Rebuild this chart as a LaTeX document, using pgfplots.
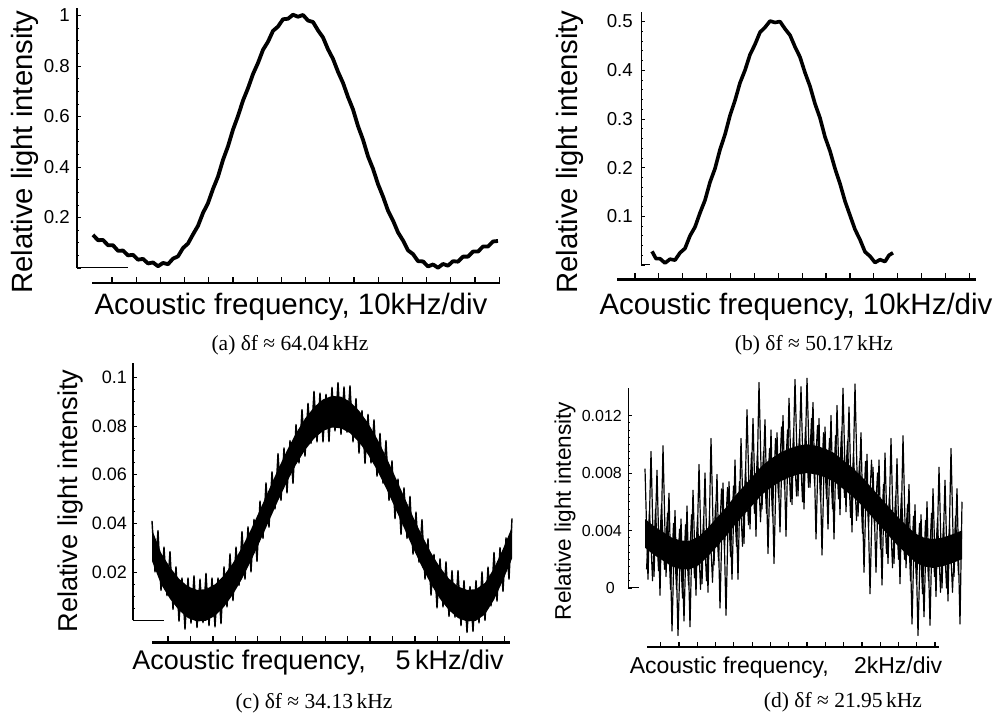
\documentclass[border=0pt]{standalone}
\usepackage{fontspec}
\setmainfont{Liberation Sans}
\newfontfamily\capfont{Liberation Serif}
\usepackage{pgfplots}
\pgfplotsset{compat=1.18}
\pgfplotsset{
  yax/.style={scale only axis, clip=false, axis y line=left, axis x line=none,
    axis line style={-}, y axis line style={-, black}, tick align=inside,
    xtick=\empty, scaled y ticks=false, major tick length=4pt, minor tick length=2.4pt,
    ytick style={black, line width=0.7pt}, minor tick style={black, line width=0.5pt},
    yticklabel style={inner sep=0pt}},
  xax/.style={scale only axis, axis x line=bottom, axis y line=none, ymin=0, ymax=1,
    height=10pt, tick align=inside, xticklabels={}, axis line style={-},
    x axis line style={-, black}, xtick style={black, line width=1.2pt}, major tick length=6pt},
}
\begin{document}
\begin{tikzpicture}[x=1pt,y=1pt]
\useasboundingbox (0,0) rectangle (998,717);
% ================= (a) =================
\begin{axis}[yax, at={(77pt,449pt)}, anchor=south west, width=423pt, height=260.1pt,
  xmin=77, xmax=500, ymin=0, ymax=1.03,
  ytick={0,0.2,0.4,0.6,0.8,1}, yticklabels={,0.2,0.4,0.6,0.8,1}, minor y tick num=3,
  y axis line style={line width=1.3pt},
  yticklabel style={font=\fontsize{18.7}{20}\selectfont, xshift=-7pt}]
\addplot[black, line width=1pt] coordinates {(77,0) (128,0)};
\addplot[black, line width=3.8pt, line join=round] coordinates {
(93,0.131) (98,0.110) (103,0.111) (108,0.090) (113,0.090) (118,0.068) (123,0.069) (128,0.050)
(133,0.052) (138,0.033) (143,0.036) (148,0.018) (153,0.022) (158,0.007) (163,0.020) (168,0.015)
(173,0.037) (178,0.046) (183,0.079) (188,0.097) (193,0.133) (198,0.167) (203,0.218) (208,0.257)
(213,0.313) (218,0.362) (223,0.428) (228,0.482) (233,0.548) (238,0.602) (243,0.663) (248,0.712)
(253,0.768) (258,0.812) (263,0.864) (268,0.896) (273,0.939) (278,0.956) (283,0.985) (288,0.987)
(293,1.003) (298,0.995) (303,1.002) (308,0.980) (313,0.974) (318,0.941) (323,0.913) (328,0.866)
(333,0.828) (338,0.777) (343,0.733) (348,0.677) (353,0.628) (358,0.562) (363,0.508) (368,0.442)
(373,0.393) (378,0.332) (383,0.283) (388,0.227) (393,0.188) (398,0.141) (403,0.109) (408,0.070)
(413,0.055) (418,0.027) (423,0.026) (428,0.006) (433,0.014) (438,0.001) (443,0.016) (448,0.009)
(453,0.027) (458,0.025) (463,0.045) (468,0.045) (473,0.065) (478,0.065) (483,0.085) (488,0.085)
(493,0.105) (498,0.107)};
\end{axis}
\begin{axis}[xax, at={(92pt,434pt)}, anchor=south west, width=408pt, xmin=92, xmax=500,
  xtick={112,136.2,...,500}, x axis line style={line width=2.5pt}]
\end{axis}
\node[rotate=90, font=\fontsize{29.3}{30}\selectfont] at (25,565) {Relative light intensity};
\node[font=\fontsize{29.5}{31}\selectfont] at (291,410) {Acoustic frequency, 10kHz/div};
\node[font=\capfont\fontsize{21.5}{23}\selectfont] at (290,372) {(a) δf ≈ 64.04\,kHz};
% ================= (b) =================
\begin{axis}[yax, at={(641pt,452pt)}, anchor=south west, width=259pt, height=253.2pt,
  xmin=641, xmax=900, ymin=0, ymax=0.52,
  ytick={0,0.1,0.2,0.3,0.4,0.5}, yticklabels={,0.1,0.2,0.3,0.4,0.5}, minor y tick num=4,
  y axis line style={line width=1pt},
  yticklabel style={font=\fontsize{18.7}{20}\selectfont, xshift=-8pt}]
\addplot[black, line width=1pt] coordinates {(641,0) (650,0)};
\addplot[black, line width=3.6pt, line join=round] coordinates {
(652,0.028) (656,0.013) (660,0.013) (665,0.004) (670,0.012) (675,0.010) (680,0.025) (685,0.034)
(690,0.060) (695,0.078) (700,0.107) (705,0.133) (710,0.170) (715,0.198) (720,0.237) (725,0.268)
(730,0.307) (735,0.338) (740,0.374) (745,0.400) (750,0.432) (755,0.453) (760,0.478) (765,0.488)
(770,0.501) (775,0.498) (780,0.500) (785,0.485) (790,0.472) (795,0.448) (800,0.427) (805,0.395)
(810,0.367) (815,0.331) (820,0.302) (825,0.263) (830,0.234) (835,0.198) (840,0.167) (845,0.131)
(850,0.102) (855,0.073) (860,0.052) (865,0.027) (870,0.018) (875,0.005) (880,0.011) (885,0.007)
(889,0.020) (893,0.025)};
\end{axis}
\begin{axis}[xax, at={(617pt,437.5pt)}, anchor=south west, width=359pt, xmin=617, xmax=976,
  xtick={635,658.88,...,971}, x axis line style={line width=2.4pt}]
\end{axis}
\node[rotate=90, font=\fontsize{29.3}{30}\selectfont] at (570,565) {Relative light intensity};
\node[font=\fontsize{29.5}{31}\selectfont] at (796,410) {Acoustic frequency, 10kHz/div};
\node[font=\capfont\fontsize{21.5}{23}\selectfont] at (814,372) {(b) δf ≈ 50.17\,kHz};
% ================= (c) =================
\begin{axis}[yax, at={(133pt,96.5pt)}, anchor=south west, width=382pt, height=257.6pt,
  xmin=133, xmax=515, ymin=0, ymax=0.106,
  ytick={0,0.02,0.04,0.06,0.08,0.1}, yticklabels={,0.02,0.04,0.06,0.08,0.1}, minor y tick num=3,
  y axis line style={line width=1.2pt},
  yticklabel style={font=\fontsize{18}{20}\selectfont, xshift=-6pt}]
\addplot[black, line width=1pt] coordinates {(133,0) (164,0)};
\addplot[fill=black, draw=none] coordinates {
(152,0.0375) (161,0.0279) (170,0.0219) (179,0.0172) (188,0.014) (197,0.0126) (206,0.0129) (215,0.0149)
(224,0.0186) (233,0.0237) (242,0.0301) (251,0.0375) (260,0.0456) (269,0.0539) (278,0.0622) (287,0.07)
(296,0.0771) (305,0.0831) (314,0.0878) (323,0.091) (332,0.0924) (341,0.0921) (350,0.0901) (359,0.0864)
(368,0.0813) (377,0.0749) (386,0.0675) (395,0.0594) (404,0.0511) (413,0.0428) (422,0.035) (431,0.0279)
(440,0.0219) (449,0.0172) (458,0.014) (467,0.0126) (476,0.0129) (485,0.0155) (494,0.0215) (503,0.0295) (512,0.0385)
(512,0.0255) (503,0.0165) (494,0.0085) (485,0.0025) (476,-0.0001) (467,-0.0004) (458,0.001) (449,0.0042)
(440,0.0089) (431,0.0149) (422,0.022) (413,0.0298) (404,0.0381) (395,0.0464) (386,0.0545) (377,0.0619)
(368,0.0683) (359,0.0734) (350,0.0771) (341,0.0791) (332,0.0794) (323,0.078) (314,0.0748) (305,0.0701)
(296,0.0641) (287,0.057) (278,0.0492) (269,0.0409) (260,0.0326) (251,0.0245) (242,0.0171) (233,0.0107)
(224,0.0056) (215,0.0019) (206,-0.0001) (197,-0.0004) (188,0.001) (179,0.0042) (170,0.0089) (161,0.0149) (152,0.0245)};
\addplot[black, line width=1.4pt, line join=round] coordinates {
(152,0.041) (155,0.020) (158,0.037) (161,0.0124) (164,0.0302) (167,0.0102) (170,0.0284) (173,0.0046)
(176,0.0221) (179,-0.0003) (182,0.0175) (185,-0.0036) (188,0.0175) (191,-0.0011) (194,0.0184) (197,-0.0029)
(200,0.017) (203,-0.0009) (206,0.0194) (209,-0.0021) (212,0.0175) (215,-0.0026) (218,0.0175) (221,-0.0013)
(224,0.0221) (227,0.0056) (230,0.0274) (233,0.0082) (236,0.0302) (239,0.0144) (242,0.0366) (245,0.017)
(248,0.0385) (251,0.020) (254,0.0416) (257,0.0243) (260,0.0491) (263,0.0338) (266,0.0566) (269,0.0384)
(272,0.0612) (275,0.0459) (278,0.0687) (281,0.0494) (284,0.071) (287,0.0525) (290,0.074) (293,0.0564)
(296,0.0806) (299,0.0648) (302,0.0868) (305,0.0676) (308,0.0894) (311,0.0729) (314,0.0943) (317,0.0735)
(320,0.0936) (323,0.0735) (326,0.0931) (329,0.0736) (332,0.0959) (335,0.078) (338,0.0979) (341,0.0766)
(344,0.0961) (347,0.0775) (350,0.0966) (353,0.0735) (356,0.0913) (359,0.0689) (362,0.0864) (365,0.0646)
(368,0.0848) (371,0.0648) (374,0.0826) (377,0.0594) (380,0.077) (383,0.0565) (386,0.074) (389,0.0494)
(392,0.0657) (395,0.0419) (398,0.0582) (401,0.0354) (404,0.0546) (407,0.0338) (410,0.0511) (413,0.0273)
(416,0.0446) (419,0.024) (422,0.0415) (425,0.017) (428,0.0336) (431,0.0104) (434,0.0272) (437,0.0052)
(440,0.0254) (443,0.0056) (446,0.0241) (449,0.0017) (452,0.0205) (455,0.0014) (458,0.0205) (461,-0.0021)
(464,0.0164) (467,-0.0049) (470,0.014) (473,-0.0045) (476,0.0164) (479,-0.001) (482,0.020) (485,0.000)
(488,0.022) (491,0.006) (494,0.028) (497,0.008) (500,0.030) (503,0.012) (506,0.034) (509,0.017) (512,0.042)};
\end{axis}
\begin{axis}[xax, at={(152pt,74.7pt)}, anchor=south west, width=358pt, xmin=152, xmax=510,
  xtick={168,190.45,...,506}, x axis line style={line width=2.5pt}]
\end{axis}
\node[rotate=90, font=\fontsize{27.2}{28}\selectfont] at (70,216) {Relative light intensity};
\node[font=\fontsize{27}{29}\selectfont] at (318,54) {Acoustic frequency,\hspace{1.1em}5\,kHz/div};
\node[font=\capfont\fontsize{21.5}{23}\selectfont] at (314,14) {(c) δf ≈ 34.13\,kHz};
% ================= (d) =================
\begin{axis}[yax, at={(628pt,129pt)}, anchor=south west, width=337pt, height=199.8pt,
  xmin=628, xmax=965, ymin=0, ymax=0.0139,
  ytick={0,0.004,0.008,0.012}, yticklabels={{0\hspace*{7pt}},0.004,0.008,0.012}, minor y tick num=7,
  y axis line style={line width=1pt},
  yticklabel style={font=\fontsize{16}{18}\selectfont, xshift=-6pt}]
\addplot[black, line width=1pt] coordinates {(628,0) (639,0)};
\addplot[fill=black, draw=none] coordinates {
(645,0.0048) (654,0.0043) (663,0.0039) (672,0.0035) (681,0.0033) (690,0.0033) (699,0.0036) (708,0.0042)
(717,0.0049) (726,0.0056) (735,0.0064) (744,0.0071) (753,0.0078) (762,0.0085) (771,0.0090) (780,0.0094)
(789,0.0097) (798,0.0099) (807,0.0100) (816,0.0099) (825,0.0097) (834,0.0094) (843,0.0089) (852,0.0084)
(861,0.0078) (870,0.0071) (879,0.0064) (888,0.0057) (897,0.0050) (906,0.0044) (915,0.0038) (924,0.0035)
(933,0.0034) (942,0.0035) (951,0.0037) (962,0.0040)
(962,0.0020) (951,0.0017) (942,0.0015) (933,0.0014) (924,0.0015) (915,0.0018) (906,0.0024) (897,0.0030)
(888,0.0037) (879,0.0044) (870,0.0051) (861,0.0058) (852,0.0064) (843,0.0069) (834,0.0074) (825,0.0077)
(816,0.0079) (807,0.0080) (798,0.0079) (789,0.0077) (780,0.0074) (771,0.0070) (762,0.0065) (753,0.0058)
(744,0.0051) (735,0.0044) (726,0.0036) (717,0.0029) (708,0.0022) (699,0.0016) (690,0.0013) (681,0.0013)
(672,0.0015) (663,0.0019) (654,0.0023) (645,0.0028)};
\addplot[black, line width=1.1pt, line join=round] coordinates {
(646.5,0.0013) (649.5,0.0054) (652.5,0.0005) (655.5,0.0055) (658.5,0.0012) (661.5,0.0058) (664.5,0.0013) (667.5,0.0052)
(670.5,-0.0001) (673.5,0.0045) (676.5,-0.0001) (679.5,0.0041) (682.5,-0.0007) (685.5,0.0044) (688.5,0.0002) (691.5,0.0051)
(694.5,0.0007) (697.5,0.0049) (700.5,-0.0001) (703.5,0.0048) (706.5,0.0005) (709.5,0.0050) (712.5,0.0004) (715.5,0.0058)
(718.5,0.0019) (721.5,0.0069) (724.5,0.0027) (727.5,0.0070) (730.5,0.0022) (733.5,0.0071) (736.5,0.0029) (739.5,0.0074)
(742.5,0.0029) (745.5,0.0083) (748.5,0.0044) (751.5,0.0094) (754.5,0.0052) (757.5,0.0095) (760.5,0.0046) (763.5,0.0095)
(766.5,0.0052) (769.5,0.0097) (772.5,0.0050) (775.5,0.0104) (778.5,0.0063) (781.5,0.0112) (784.5,0.0069) (787.5,0.0110)
(790.5,0.0060) (793.5,0.0108) (796.5,0.0064) (799.5,0.0107) (802.5,0.0060) (805.5,0.0112) (808.5,0.0070) (811.5,0.0118)
(814.5,0.0073) (817.5,0.0113) (820.5,0.0061) (823.5,0.0108) (826.5,0.0062) (829.5,0.0104) (832.5,0.0055) (835.5,0.0106)
(838.5,0.0062) (841.5,0.0109) (844.5,0.0063) (847.5,0.0102) (850.5,0.0049) (853.5,0.0094) (856.5,0.0047) (859.5,0.0088)
(862.5,0.0038) (865.5,0.0088) (868.5,0.0043) (871.5,0.0089) (874.5,0.0043) (877.5,0.0080) (880.5,0.0027) (883.5,0.0072)
(886.5,0.0024) (889.5,0.0065) (892.5,0.0014) (895.5,0.0064) (898.5,0.0020) (901.5,0.0066) (904.5,0.0020) (907.5,0.0058)
(910.5,0.0005) (913.5,0.0050) (916.5,0.0003) (919.5,0.0045) (922.5,-0.0004) (925.5,0.0047) (928.5,0.0005) (931.5,0.0052)
(934.5,0.0008) (937.5,0.0048) (940.5,-0.0003) (943.5,0.0045) (946.5,0.0000) (949.5,0.0044) (952.5,-0.0003) (955.5,0.0050)
(958.5,0.0009)};
\addplot[black, line width=1.2pt, line join=round] coordinates {
(645,0.0083) (648,0.0006) (651,0.0095) (654,0.0008) (657,0.0082) (660,-0.0005) (663,0.0099) (666,0.0008)
(669,0.0066) (672,-0.0030) (675,0.0054) (678,-0.0033) (681,0.0048) (684,-0.0023) (687,0.0057) (690,-0.0027)
(693,0.0068) (696,-0.0005) (699,0.0086) (702,0.0003) (705,0.0080) (708,-0.0003) (711,0.0104) (714,0.0016)
(717,0.0079) (720,-0.0014) (723,0.0073) (726,-0.0019) (729,0.0074) (732,0.0006) (735,0.0089) (738,0.0006)
(741,0.0104) (744,0.0031) (747,0.0124) (750,0.0041) (753,0.0118) (756,0.0036) (759,0.0143) (762,0.0055)
(765,0.0117) (768,0.0024) (771,0.0110) (774,0.0017) (777,0.0108) (780,0.0039) (783,0.0120) (786,0.0036)
(789,0.0132) (792,0.0058) (795,0.0145) (798,0.0064) (801,0.0140) (804,0.0055) (807,0.0146) (810,0.0070)
(813,0.0129) (816,0.0034) (819,0.0118) (822,0.0023) (825,0.0112) (828,0.0041) (831,0.0120) (834,0.0034)
(837,0.0127) (840,0.0051) (843,0.0139) (846,0.0053) (849,0.0126) (852,0.0039) (855,0.0142) (858,0.0050)
(861,0.0108) (864,0.0011) (867,0.0093) (870,-0.0004) (873,0.0084) (876,0.0011) (879,0.0089) (882,0.0002)
(885,0.0094) (888,0.0017) (891,0.0104) (894,0.0017) (897,0.0090) (900,0.0003) (903,0.0106) (906,0.0014)
(909,0.0072) (912,-0.0025) (915,0.0058) (918,-0.0033) (921,0.0051) (924,-0.0020) (927,0.0060) (930,-0.0026)
(933,0.0069) (936,-0.0006) (939,0.0084) (942,0.0000) (945,0.0075) (948,-0.0009) (951,0.0097) (954,0.0008)
(957,0.0069) (960,-0.0025) (962,0.0060)};
\end{axis}
\begin{axis}[xax, at={(647pt,70pt)}, anchor=south west, width=292pt, xmin=647, xmax=939,
  xtick={660.7,678.99,...,936}, x axis line style={line width=2pt}, major tick length=5pt]
\end{axis}
\node[rotate=90, font=\fontsize{22.6}{24}\selectfont] at (565,206) {Relative light intensity};
\node[font=\fontsize{23}{25}\selectfont] at (786,49) {Acoustic frequency,\hspace{1.1em}2kHz/div};
\node[font=\capfont\fontsize{21.5}{23}\selectfont] at (843,15) {(d) δf ≈ 21.95\,kHz};
\end{tikzpicture}
\end{document}
